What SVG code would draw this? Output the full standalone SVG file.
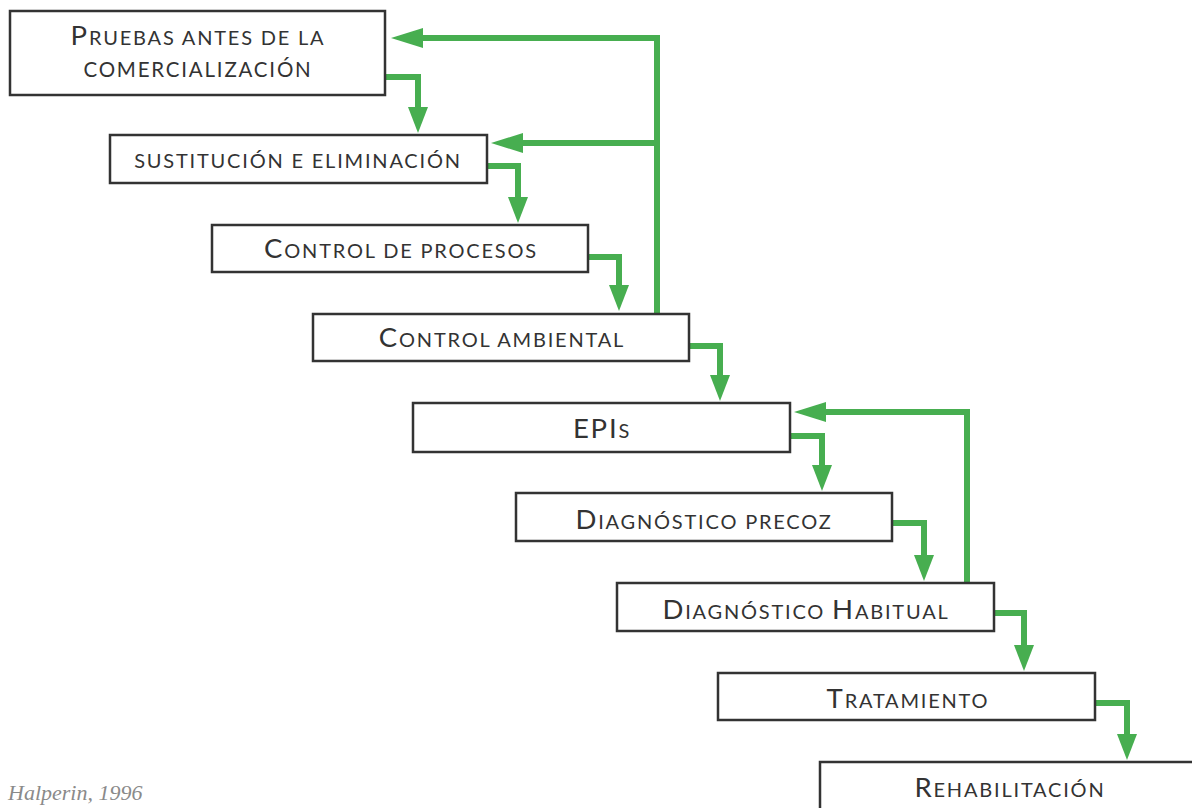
<svg xmlns="http://www.w3.org/2000/svg" width="1192" height="808" viewBox="0 0 1192 808">
<style>
.box{fill:#fff;stroke:#333;stroke-width:2.5}
.t{font-family:Lato,"Liberation Sans",sans-serif;fill:#333;text-anchor:middle;font-size:20px;letter-spacing:1.8px}
.b{font-size:27.5px}
.c{fill:none;stroke:#47ae50;stroke-width:6;stroke-linejoin:miter}
.cite{font-family:"Liberation Serif",serif;font-style:italic;fill:#8a8a8a;font-size:22px}
</style>
<defs>
<marker id="ah" viewBox="0 0 26 20" refX="14" refY="10" markerWidth="26" markerHeight="20" markerUnits="userSpaceOnUse" orient="auto">
<path d="M0,0 L26,10 L0,20 z" fill="#47ae50"/>
</marker>
<marker id="al" viewBox="0 0 32 20" refX="18" refY="10" markerWidth="32" markerHeight="20" markerUnits="userSpaceOnUse" orient="auto">
<path d="M0,0 L32,10 L0,20 z" fill="#47ae50"/>
</marker>
</defs>
<rect width="1192" height="808" fill="#fff"/>
<g id="connectors">
<path class="c" d="M385,77 H418 V121" marker-end="url(#ah)"/>
<path class="c" d="M487,166 H518 V211" marker-end="url(#ah)"/>
<path class="c" d="M588,257 H619 V299" marker-end="url(#ah)"/>
<path class="c" d="M689,346 H720 V389" marker-end="url(#ah)"/>
<path class="c" d="M790,436 H822 V479" marker-end="url(#ah)"/>
<path class="c" d="M892,523 H924 V569" marker-end="url(#ah)"/>
<path class="c" d="M994,613 H1024 V659" marker-end="url(#ah)"/>
<path class="c" d="M1095,703 H1127 V748" marker-end="url(#ah)"/>
<path class="c" d="M657,314 V38 H405" marker-end="url(#al)"/>
<path class="c" d="M657,143 H505" marker-end="url(#al)"/>
<path class="c" d="M967,583 V412 H808" marker-end="url(#al)"/>
</g>
<g id="n1"><rect class="box" x="10" y="11" width="375" height="84"/>
<text class="t" x="198" y="45"><tspan class="b">P</tspan>RUEBAS ANTES DE LA</text>
<text class="t" x="198" y="77" style="font-size:20.5px">COMERCIALIZACIÓN</text></g>
<g id="n2"><rect class="box" x="110" y="135" width="377" height="48"/>
<text class="t" x="298" y="168">SUSTITUCIÓN E ELIMINACIÓN</text></g>
<g id="n3"><rect class="box" x="212" y="225" width="376" height="47"/>
<text class="t" x="401" y="258"><tspan class="b">C</tspan>ONTROL DE PROCESOS</text></g>
<g id="n4"><rect class="box" x="313" y="314" width="376" height="47"/>
<text class="t" x="502" y="347"><tspan class="b">C</tspan>ONTROL AMBIENTAL</text></g>
<g id="n5"><rect class="box" x="413" y="403" width="377" height="49"/>
<text class="t" x="602" y="438"><tspan class="b">EPI</tspan>S</text></g>
<g id="n6"><rect class="box" x="516" y="493" width="376" height="48"/>
<text class="t" x="704" y="529"><tspan class="b">D</tspan>IAGNÓSTICO PRECOZ</text></g>
<g id="n7"><rect class="box" x="617" y="583" width="377" height="48"/>
<text class="t" x="806" y="619"><tspan class="b">D</tspan>IAGNÓSTICO <tspan class="b">H</tspan>ABITUAL</text></g>
<g id="n8"><rect class="box" x="718" y="673" width="377" height="47"/>
<text class="t" x="908" y="708"><tspan class="b">T</tspan>RATAMIENTO</text></g>
<g id="n9"><rect class="box" x="820" y="762" width="376" height="50"/>
<text class="t" x="1010" y="797"><tspan class="b">R</tspan>EHABILITACIÓN</text></g>
<text class="cite" x="8" y="800">Halperin, 1996</text>
</svg>
